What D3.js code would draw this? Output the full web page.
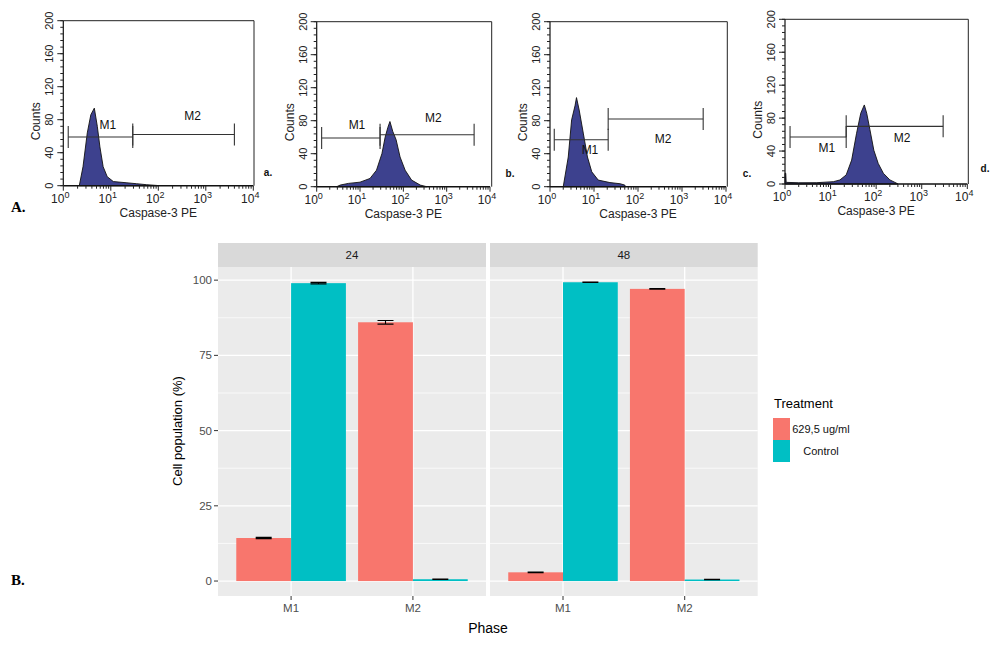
<!DOCTYPE html>
<html><head><meta charset="utf-8">
<script src="https://cdn.jsdelivr.net/npm/d3@7"></script>
<style>body{margin:0;background:#fff}svg{display:block}</style>
</head><body>
<svg id="c" width="1000" height="648"></svg>
<script>
// ---------- DATA: Part A (flow cytometry histograms) ----------
const histLetters = ["a.", "b.", "c.", "d."];
// [Caspase-3 PE intensity, counts]
const histA = [[2.17,0],[2.6,23],[3.2,64],[3.8,86],[4.5,94],[5.2,72],[5.9,47],[6.9,23],[8.4,11],[11.3,5],[21,3.6],[35,2.4],[57,1.2],[93,0.3],[100,0]];
const histB = [[2.9,0],[3.5,2],[5.4,4],[10,5.5],[17,10],[24,20],[32,40],[38,60],[44,72],[49,79],[57,67],[68,57],[84,36],[110,20],[155,8],[245,2],[346,0]];
const histC = [[2.0,0],[2.6,36],[3.1,81],[3.7,98],[4.0,108],[4.6,93],[5.7,65],[7.1,36],[8.9,18],[12.5,8],[23,5],[39,3.6],[50,2],[52,0]];
const histD = [[1.0,0],[1.0,13],[1.04,13],[1.06,2],[2,1.5],[5,1.6],[11.5,2.8],[16,4.9],[22,11],[29,29],[37,61],[46,86],[55,96],[62,86],[73,66],[89,41],[111,25],[144,13],[200,5],[280,1],[300,0]];
// marker gates [from, to, count level]
const gateM1 = [[1.27,29,59],[1.3,29,59],[1.25,21,57],[1.29,22,57]];
const gateM2 = [[29,4000,62],[29,4300,63],[21,3030,82],[22,2950,70]];
const histXTicks = [1, 10, 100, 1000, 10000];
const histYTicks = [0, 40, 80, 120, 160, 200];

// ---------- DATA: Part B (bar chart) ----------
const times = ["24", "48"];
const phases = ["M1", "M2"];
const treatments = ["629,5 ug/ml", "Control"];
const treated24 = [14.3, 86.0];
const treated24Err = [0.2, 0.6];
const control24 = [99.0, 0.6];
const control24Err = [0.25, 0.1];
const treated48 = [2.9, 97.1];
const treated48Err = [0.1, 0.1];
const control48 = [99.3, 0.5];
const control48Err = [0.1, 0.05];
const barYTicks = [0, 25, 50, 75, 100];

const svg = d3.select("#c");
const FONT = "Liberation Sans, Arial, Helvetica, sans-serif";

// ---------- Part A drawing ----------
const histData = [histA, histB, histC, histD];
const boxes = [
  {x0:63.3, x1:253.3, fr:254, top:20.7, bot:185.7, lx:268, ly:176, m1lab:[8.7,73], m2lab:[530,84]},
  {x0:316.7, x1:490, fr:491.7, top:21.7, bot:186.7, lx:510, ly:177, m1lab:[8.5,75], m2lab:[490,83]},
  {x0:550, x1:726, fr:727.3, top:21.7, bot:186.7, lx:747, ly:177, m1lab:[8.1,44], m2lab:[370,58]},
  {x0:785, x1:967.3, fr:968.3, top:19.3, bot:184, lx:985, ly:172, m1lab:[8.3,44], m2lab:[370,56]}
];

boxes.forEach((b, i) => {
  const g = svg.append("g");
  const x = d3.scaleLog().domain([1, 10000]).range([b.x0, b.x1]);
  const y = d3.scaleLinear().domain([0, 200]).range([b.bot, b.top]);

  // histogram
  const area = d3.area().x(d => x(d[0])).y0(y(0)).y1(d => y(d[1]));
  g.append("path").datum(histData[i]).attr("d", area)
    .attr("fill", "#3d418e").attr("stroke", "#111").attr("stroke-width", 0.9);

  // frame
  g.append("path")
    .attr("d", `M${b.x0},${b.top}H${b.fr}V${b.bot}`)
    .attr("fill", "none").attr("stroke", "#222").attr("stroke-width", 1);
  g.append("line").attr("x1", b.x0).attr("x2", b.x0).attr("y1", b.top).attr("y2", b.bot)
    .attr("stroke", "#111").attr("stroke-width", 1.2);
  g.append("line").attr("x1", b.x0).attr("x2", b.x1).attr("y1", b.bot).attr("y2", b.bot)
    .attr("stroke", "#111").attr("stroke-width", 1.4);

  // y ticks
  const minorY = d3.range(0, 201, 8);
  g.selectAll(".ym").data(minorY).join("line")
    .attr("x1", b.x0 - 3).attr("x2", b.x0).attr("y1", d => y(d)).attr("y2", d => y(d))
    .attr("stroke", "#222").attr("stroke-width", 1);
  g.selectAll(".yM").data(histYTicks).join("line")
    .attr("x1", b.x0 - 6).attr("x2", b.x0).attr("y1", d => y(d)).attr("y2", d => y(d))
    .attr("stroke", "#222").attr("stroke-width", 1);
  g.selectAll(".yl").data(histYTicks).join("text")
    .attr("transform", d => `translate(${b.x0 - 10},${y(d)}) rotate(-90)`)
    .attr("text-anchor", "middle").attr("font-family", FONT).attr("font-size", 11)
    .attr("fill", "#222").text(d => d);
  g.append("text")
    .attr("transform", `translate(${b.x0 - 23},${(b.top + b.bot) / 2 + 18}) rotate(-90)`)
    .attr("text-anchor", "middle").attr("font-family", FONT).attr("font-size", 12)
    .attr("fill", "#222").text("Counts");

  // x ticks
  const minorX = [];
  for (let e = 0; e < 4; e++) for (let k = 2; k <= 9; k++) minorX.push(k * Math.pow(10, e));
  g.selectAll(".xm").data(minorX).join("line")
    .attr("x1", d => x(d)).attr("x2", d => x(d)).attr("y1", b.bot).attr("y2", b.bot + 3)
    .attr("stroke", "#222").attr("stroke-width", 1);
  g.selectAll(".xM").data(histXTicks).join("line")
    .attr("x1", d => x(d)).attr("x2", d => x(d)).attr("y1", b.bot).attr("y2", b.bot + 5)
    .attr("stroke", "#222").attr("stroke-width", 1);
  const xl = g.selectAll(".xl").data(histXTicks).join("text")
    .attr("x", d => x(d) - 3).attr("y", b.bot + 17)
    .attr("text-anchor", "middle").attr("font-family", FONT).attr("font-size", 12).attr("fill", "#222");
  xl.append("tspan").text("10");
  xl.append("tspan").attr("dy", -5).attr("font-size", 9).text(d => Math.round(Math.log10(d)));
  g.append("text").attr("x", (b.x0 + b.x1) / 2).attr("y", b.bot + 31)
    .attr("text-anchor", "middle").attr("font-family", FONT).attr("font-size", 12)
    .attr("fill", "#222").text("Caspase-3 PE");

  // gates
  const gates = [gateM1[i], gateM2[i]];
  gates.forEach(gt => {
    const yy = y(gt[2]);
    g.append("line").attr("x1", x(gt[0])).attr("x2", x(gt[1])).attr("y1", yy).attr("y2", yy)
      .attr("stroke", "#333").attr("stroke-width", 1.1);
    [gt[0], gt[1]].forEach(v => {
      g.append("line").attr("x1", x(v)).attr("x2", x(v)).attr("y1", yy - 11).attr("y2", yy + 11)
        .attr("stroke", "#333").attr("stroke-width", 1.1);
    });
  });
  g.append("text").attr("x", x(b.m1lab[0])).attr("y", y(b.m1lab[1]) + 4)
    .attr("text-anchor", "middle").attr("font-family", FONT).attr("font-size", 12)
    .attr("fill", "#111").text("M1");
  g.append("text").attr("x", x(b.m2lab[0])).attr("y", y(b.m2lab[1]) + 4)
    .attr("text-anchor", "middle").attr("font-family", FONT).attr("font-size", 12)
    .attr("fill", "#111").text("M2");

  g.append("text").attr("x", b.lx).attr("y", b.ly).attr("text-anchor", "middle")
    .attr("font-family", FONT).attr("font-size", 10).attr("font-weight", "bold")
    .attr("fill", "#111").text(histLetters[i]);
});

// Panel labels
svg.append("text").attr("x", 11).attr("y", 212).attr("font-family", "Liberation Serif, Times New Roman, serif")
  .attr("font-size", 15).attr("font-weight", "bold").text("A.");
svg.append("text").attr("x", 11).attr("y", 585).attr("font-family", "Liberation Serif, Times New Roman, serif")
  .attr("font-size", 15).attr("font-weight", "bold").text("B.");

// ---------- Part B drawing ----------
const series = {
  "24": [{t: treatments[0], v: treated24, e: treated24Err}, {t: treatments[1], v: control24, e: control24Err}],
  "48": [{t: treatments[0], v: treated48, e: treated48Err}, {t: treatments[1], v: control48, e: control48Err}]
};
const allTop = [];
times.forEach(t => series[t].forEach(s => s.v.forEach((v, k) => allTop.push(v + s.e[k]))));
const maxV = d3.max(allTop);
const y = d3.scaleLinear().domain([-0.05 * maxV, maxV * 1.05]).range([596, 267]);
const color = d3.scaleOrdinal().domain(treatments).range(["#F8766D", "#00BFC4"]);
const panelX = [[218, 486], [490, 757.7]];

times.forEach((t, pi) => {
  const [px0, px1] = panelX[pi];
  const g = svg.append("g");
  const x = d3.scaleBand().domain(phases).range([px0, px1]).paddingInner(0).paddingOuter(0.1);
  const xs = d3.scaleBand().domain(treatments).range([x.bandwidth() * 0.05, x.bandwidth() * 0.95]);

  g.append("rect").attr("x", px0).attr("y", 267).attr("width", px1 - px0).attr("height", 329).attr("fill", "#EBEBEB");
  g.append("rect").attr("x", px0).attr("y", 243).attr("width", px1 - px0).attr("height", 24).attr("fill", "#D9D9D9");
  g.append("text").attr("x", (px0 + px1) / 2).attr("y", 259).attr("text-anchor", "middle")
    .attr("font-family", FONT).attr("font-size", 11.5).attr("fill", "#1A1A1A").text(t);

  // minor grid
  const minor = barYTicks.slice(0, -1).map((d, k) => (d + barYTicks[k + 1]) / 2);
  g.selectAll(".mg").data(minor).join("line")
    .attr("x1", px0).attr("x2", px1).attr("y1", d => y(d)).attr("y2", d => y(d))
    .attr("stroke", "#fff").attr("stroke-width", 0.7);
  g.selectAll(".Mg").data(barYTicks).join("line")
    .attr("x1", px0).attr("x2", px1).attr("y1", d => y(d)).attr("y2", d => y(d))
    .attr("stroke", "#fff").attr("stroke-width", 1.3);
  g.selectAll(".vg").data(phases).join("line")
    .attr("x1", d => x(d) + x.bandwidth() / 2).attr("x2", d => x(d) + x.bandwidth() / 2)
    .attr("y1", 267).attr("y2", 596).attr("stroke", "#fff").attr("stroke-width", 1.3);

  series[t].forEach(s => {
    phases.forEach((p, k) => {
      const bx = x(p) + xs(s.t);
      g.append("rect").attr("x", bx).attr("width", xs.bandwidth())
        .attr("y", y(s.v[k])).attr("height", y(0) - y(s.v[k])).attr("fill", color(s.t));
    });
  });
  series[t].forEach(s => {
    phases.forEach((p, k) => {
      const cx = x(p) + xs(s.t) + xs.bandwidth() / 2;
      const hw = 8;
      const y1 = y(s.v[k] + s.e[k]), y2 = y(s.v[k] - s.e[k]);
      g.append("path").attr("d", `M${cx - hw},${y1}H${cx + hw}M${cx},${y1}V${y2}M${cx - hw},${y2}H${cx + hw}`)
        .attr("stroke", "#000").attr("stroke-width", 1.1).attr("fill", "none");
    });
  });

  // x axis
  g.selectAll(".xt").data(phases).join("line")
    .attr("x1", d => x(d) + x.bandwidth() / 2).attr("x2", d => x(d) + x.bandwidth() / 2)
    .attr("y1", 596).attr("y2", 600).attr("stroke", "#333").attr("stroke-width", 1);
  g.selectAll(".xl").data(phases).join("text")
    .attr("x", d => x(d) + x.bandwidth() / 2).attr("y", 612).attr("text-anchor", "middle")
    .attr("font-family", FONT).attr("font-size", 11.5).attr("fill", "#4D4D4D").text(d => d);
});

// y axis
svg.selectAll(".yt").data(barYTicks).join("line")
  .attr("x1", 214).attr("x2", 218).attr("y1", d => y(d)).attr("y2", d => y(d))
  .attr("stroke", "#333").attr("stroke-width", 1);
svg.selectAll(".yl").data(barYTicks).join("text")
  .attr("x", 212).attr("y", d => y(d) + 4).attr("text-anchor", "end")
  .attr("font-family", FONT).attr("font-size", 11.5).attr("fill", "#4D4D4D").text(d => d);
svg.append("text").attr("transform", "translate(182,431) rotate(-90)").attr("text-anchor", "middle")
  .attr("font-family", FONT).attr("font-size", 13).attr("fill", "#000").text("Cell population (%)");
svg.append("text").attr("x", 488).attr("y", 633).attr("text-anchor", "middle")
  .attr("font-family", FONT).attr("font-size", 14).attr("fill", "#000").text("Phase");

// legend
svg.append("text").attr("x", 774).attr("y", 408).attr("font-family", FONT).attr("font-size", 13)
  .attr("fill", "#000").text("Treatment");
treatments.forEach((t, k) => {
  svg.append("rect").attr("x", 773).attr("y", 418 + k * 22).attr("width", 17).attr("height", 22)
    .attr("fill", color(t));
  svg.append("text").attr("x", 821).attr("y", 433 + k * 22).attr("text-anchor", "middle")
    .attr("font-family", FONT).attr("font-size", 11).attr("fill", "#111").text(t);
});
</script>
</body></html>
